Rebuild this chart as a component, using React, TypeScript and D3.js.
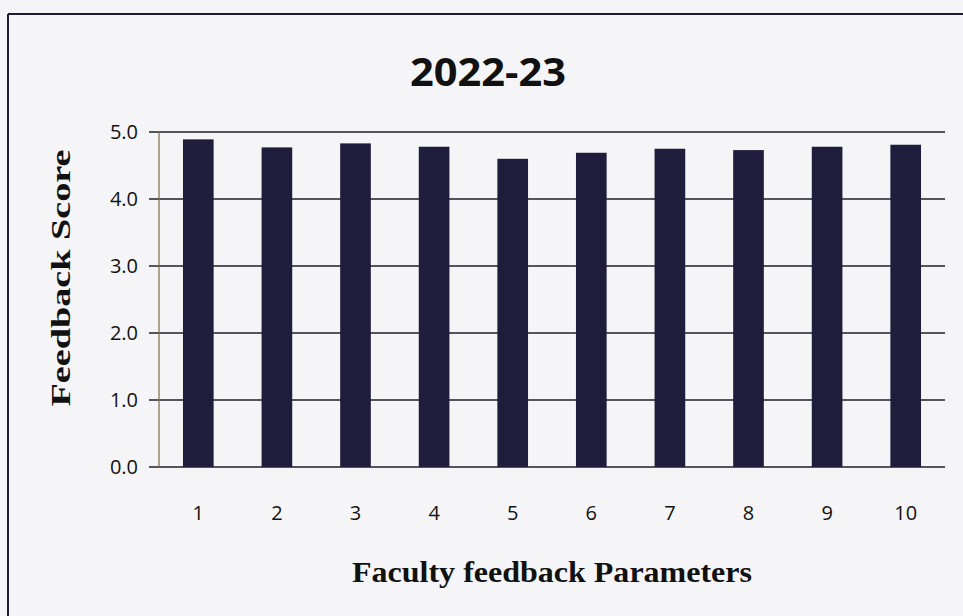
import React from 'react';
import * as d3 from 'd3';

const title = '2022-23';
const categories = ['1', '2', '3', '4', '5', '6', '7', '8', '9', '10'];
const scores = [4.89, 4.77, 4.83, 4.78, 4.6, 4.69, 4.75, 4.73, 4.78, 4.81];
const yTicks = [0, 1, 2, 3, 4, 5];
const xTitle = 'Faculty feedback Parameters';
const yTitle = 'Feedback Score';

const W = 963;
const H = 616;
const plot = { left: 159, right: 945, top: 132, bottom: 467 };

const App = () => {
    const x = d3.scaleBand()
        .domain(categories)
        .range([plot.left, plot.right])
        .paddingInner(0.61)
        .paddingOuter(0.305);

    const y = d3.scaleLinear()
        .domain([0, 5])
        .range([plot.bottom, plot.top]);

    const sans = '"Open Sans", "Noto Sans", sans-serif';
    const serif = '"Liberation Serif", "DejaVu Serif", serif';

    return (
        <svg width={W} height={H} style={{ position: 'absolute', left: 0, top: 0 }}>
            <rect x={0} y={0} width={W} height={H} fill="#f5f5f7" />
            {/* frame of the scanned page */}
            <line x1={8} y1={14} x2={W} y2={14} stroke="#1c1c34" strokeWidth={2} />
            <line x1={8} y1={14} x2={8} y2={H} stroke="#1c1c34" strokeWidth={2} />

            <text x={488} y={86} textAnchor="middle" fontFamily={sans} fontWeight={700}
                fontSize={40} textLength={156} lengthAdjust="spacingAndGlyphs" fill="#111">{title}</text>

            {/* gridlines with ticks */}
            {yTicks.map(t => (
                <g key={t}>
                    <line x1={plot.left - 10} x2={plot.right} y1={y(t)} y2={y(t)}
                        stroke="#1e1e28" strokeWidth={1.6} />
                    <text x={138} y={y(t)} dy="0.36em" textAnchor="end" fontFamily={sans}
                        fontSize={20} fill="#111">{t.toFixed(1)}</text>
                </g>
            ))}
            <line x1={plot.left} x2={plot.left} y1={plot.top} y2={plot.bottom}
                stroke="#7d6d48" strokeWidth={1.2} />

            {categories.map((c, i) => (
                <rect key={c} x={x(c)} y={y(scores[i])} width={x.bandwidth()}
                    height={y(0) - y(scores[i])} fill="#1f1c3c" />
            ))}

            {categories.map(c => (
                <text key={c} x={(x(c) ?? 0) + x.bandwidth() / 2} y={513} dy="0.36em"
                    textAnchor="middle" fontFamily={sans} fontSize={20} fill="#111">{c}</text>
            ))}

            <text x={552} y={582} textAnchor="middle" fontFamily={serif} fontWeight={700}
                fontSize={30} textLength={400} lengthAdjust="spacingAndGlyphs" fill="#111">{xTitle}</text>

            <text transform={`translate(70,${278}) rotate(-90)`} textAnchor="middle"
                fontFamily={serif} fontWeight={700} fontSize={27} textLength={257}
                lengthAdjust="spacingAndGlyphs" fill="#111">{yTitle}</text>
        </svg>
    );
};

export default App;
